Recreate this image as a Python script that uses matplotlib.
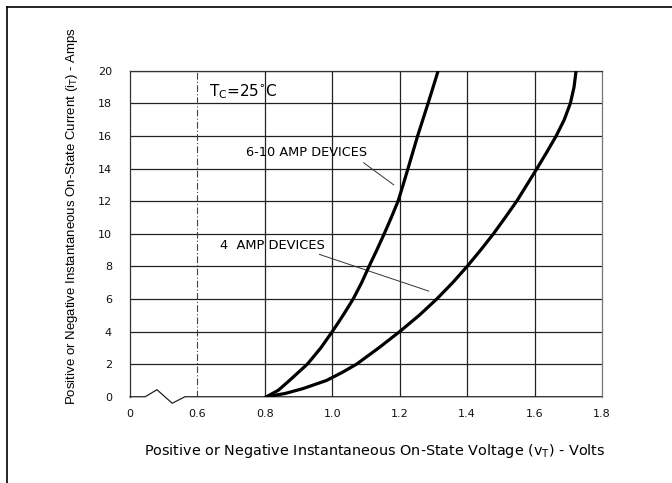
import matplotlib
matplotlib.use("Agg")
import matplotlib.pyplot as plt
from matplotlib.lines import Line2D

plt.rcParams['font.family'] = ['Liberation Sans', 'DejaVu Sans']
wide = ['DejaVu Sans']  # the scan is stretched sideways, so horizontal text runs wide

# 6-10 amp devices curve (volts, amps)
v_610 = [0.805, 0.84, 0.873, 0.926, 0.966, 1.00, 1.032, 1.062, 1.087, 1.109, 1.132,
         1.154, 1.175, 1.195, 1.210, 1.2245, 1.253, 1.284, 1.314]
i_610 = [0, 0.4, 1.0, 2.0, 3.0, 4.0, 5.0, 6.0, 7.0, 8.0, 9.0,
         10, 11, 12, 13, 14, 16, 18, 20]

# 4 amp devices curve
v_4 = [0.805, 0.86, 0.913, 0.983, 1.03, 1.072, 1.138, 1.20, 1.258, 1.31, 1.357, 1.40,
       1.44, 1.478, 1.513, 1.547, 1.577, 1.607, 1.636, 1.664, 1.688, 1.706, 1.717, 1.723]
i_4 = [0, 0.2, 0.5, 1.0, 1.5, 2, 3, 4, 5, 6, 7, 8,
       9, 10, 11, 12, 13, 14, 15, 16, 17, 18, 19, 20]

# axis break (zigzag) on the zero line, axis starts at "0" drawn at 0.4
break_x = [0.40, 0.445, 0.48, 0.525, 0.563, 1.80]
break_y = [0, 0, 0.43, -0.4, 0, 0]

x_ticks = [0.4, 0.6, 0.8, 1.0, 1.2, 1.4, 1.6, 1.8]
x_labels = ["0", "0.6", "0.8", "1.0", "1.2", "1.4", "1.6", "1.8"]
y_ticks = list(range(0, 21, 2))

fig = plt.figure(figsize=(6.72, 4.83), dpi=100)
ax = fig.add_axes([0.1935, 0.1786, 0.7024, 0.6750])

ax.set_xlim(0.4, 1.8)
ax.set_ylim(0, 20)
ax.set_xticks(x_ticks)
ax.set_xticklabels(x_labels, family=wide, fontsize=8)
ax.set_yticks(y_ticks)
ax.set_yticklabels([str(t) for t in y_ticks], family=wide, fontsize=8)
ax.tick_params(length=0, colors="#111111")
ax.tick_params(axis="y", pad=13)
ax.tick_params(axis="x", pad=9)

# grid
for y in y_ticks[1:]:
    ax.axhline(y, color="#222222", lw=0.9, zorder=1)
for x in x_ticks[2:-1]:
    ax.axvline(x, color="#222222", lw=0.9, zorder=1)
ax.axvline(0.6, color="#444444", lw=0.8, ls=(0, (6, 2, 1, 2)), zorder=1)

for s in ["top", "left"]:
    ax.spines[s].set_color("#333333")
    ax.spines[s].set_linewidth(0.9)
ax.spines["right"].set_color("#777777")
ax.spines["right"].set_linewidth(0.9)
ax.spines["bottom"].set_visible(False)
ax.plot(break_x, break_y, color="#222222", lw=0.9, clip_on=False, zorder=2)

ax.plot(v_610, i_610, color="black", lw=2.3, zorder=3)
ax.plot(v_4, i_4, color="black", lw=2.3, zorder=3)

ax.text(0.634, 18.7, r"T$_\mathrm{C}$=25$^{\circ}$C", fontsize=11, va="center", ha="left",
        family=wide)
ax.text(0.924, 14.97, "6-10 AMP DEVICES", fontsize=9.3, va="center", ha="center", family=wide)
ax.plot([1.093, 1.182], [14.35, 13.0], color="#333333", lw=0.7)
ax.text(0.823, 9.28, "4  AMP DEVICES", fontsize=9.4, va="center", ha="center", family=wide)
ax.plot([0.962, 1.286], [8.73, 6.48], color="#333333", lw=0.7)

ax.set_xlabel(r"Positive or Negative Instantaneous On-State Voltage (v$_\mathrm{T}$) - Volts",
              fontsize=10.4, family=wide)
ax.xaxis.set_label_coords(0.519, -0.139)
ax.set_ylabel(r"Positive or Negative Instantaneous On-State Current (i$_\mathrm{T}$) - Amps",
              fontsize=9.5, va="center")
ax.yaxis.set_label_coords(-0.123, 0.553)

# page border (top and left)
fig.add_artist(Line2D([7 / 672, 1.0], [1 - 7 / 483, 1 - 7 / 483], color="black", lw=1.2,
                      transform=fig.transFigure))
fig.add_artist(Line2D([7 / 672, 7 / 672], [0, 1 - 7 / 483], color="black", lw=1.2,
                      transform=fig.transFigure))

fig.savefig("out.png", dpi=100)
